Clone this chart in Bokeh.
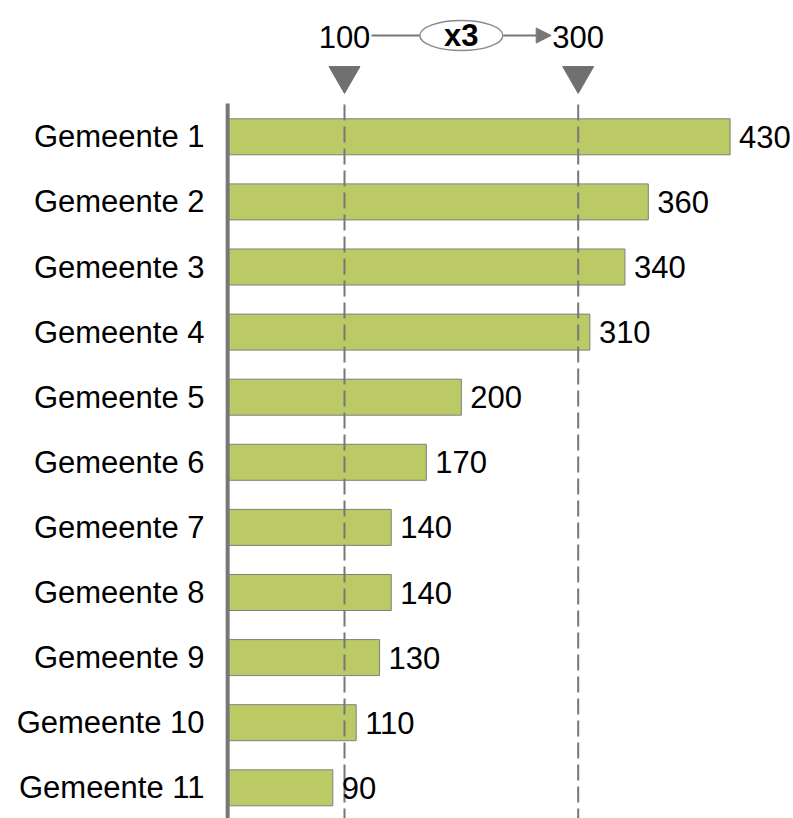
from bokeh.plotting import figure
from bokeh.models import Range1d, FixedTicker, Arrow, NormalHead, ColumnDataSource
from bokeh.core.properties import value
from bokeh.embed import file_html
from bokeh.resources import INLINE

# ---- data ----
categories = ["Gemeente 1", "Gemeente 2", "Gemeente 3", "Gemeente 4", "Gemeente 5",
              "Gemeente 6", "Gemeente 7", "Gemeente 8", "Gemeente 9", "Gemeente 10",
              "Gemeente 11"]
values = [430, 360, 340, 310, 200, 170, 140, 140, 130, 110, 90]
thresholds = [100, 300]
threshold_labels = ["100", "300"]
factor_label = "x3"

FONT = "Liberation Sans"
GREY = "#777777"
BAR = "#BBCA65"
FS = "31px"

W, H = 793, 818
LEFT = 218
ZERO_PX = 227.15        # pixel x of value 0
SCALE = 1.1685          # px per unit on x
YSTEP = 65.1            # px per category step
Y0 = 136.3              # px from top to first bar centre

x_start = -(ZERO_PX - LEFT) / SCALE
x_end = x_start + (W - LEFT) / SCALE
y_top = -Y0 / YSTEP
y_bot = y_top + H / YSTEP

def ypx(px):  # pixel from figure top -> data y
    return (px - Y0) / YSTEP

p = figure(width=W, height=H, output_backend="svg", toolbar_location=None,
           x_axis_location=None, y_axis_location="left",
           x_range=Range1d(x_start, x_end), y_range=Range1d(y_bot, y_top),
           min_border_left=LEFT, min_border_right=0, min_border_top=0, min_border_bottom=0)
p.outline_line_color = None
p.xgrid.visible = False
p.ygrid.visible = False
p.background_fill_color = "white"
p.border_fill_color = "white"

idx = list(range(len(categories)))
p.yaxis.ticker = FixedTicker(ticks=idx)
p.yaxis.major_label_overrides = {i: c for i, c in zip(idx, categories)}
p.yaxis.axis_line_color = None
p.yaxis.major_tick_line_color = None
p.yaxis.minor_tick_line_color = None
p.yaxis.major_label_text_font = FONT
p.yaxis.major_label_text_font_size = FS
p.yaxis.major_label_text_color = "black"
p.yaxis.major_label_standoff = 8

src = ColumnDataSource(dict(y=idx, v=values, lab=[str(v) for v in values]))

# bars
p.hbar(y="y", left=0, right="v", height=0.553, source=src,
       fill_color=BAR, line_color="#7f7f7f", line_width=1)

# vertical base line
p.segment(x0=[0], y0=[ypx(103)], x1=[0], y1=[y_bot], line_color=GREY, line_width=4)

# dashed threshold lines
p.segment(x0=thresholds, y0=[ypx(104)] * 2, x1=thresholds, y1=[y_bot] * 2,
          line_color=GREY, line_width=2, line_dash="16 6")

# triangles
p.scatter(x=thresholds, y=[ypx(75)] * 2, marker="inverted_triangle", size=31,
          fill_color="#707070", line_color="#707070")

# value labels
p.text(x="v", y="y", text="lab", source=src, x_offset=9,
       text_font=value(FONT), text_font_size=FS, text_color="black",
       text_align="left", text_baseline="middle")

# top annotation
yt = ypx(35)
p.text(x=thresholds, y=[ypx(36)] * 2, text=threshold_labels,
       text_font=value(FONT), text_font_size=FS, text_color="black",
       text_align="center", text_baseline="middle")

xm = (thresholds[0] + thresholds[1]) / 2
p.segment(x0=[thresholds[0] + 27 / SCALE], y0=[yt], x1=[xm - 41 / SCALE], y1=[yt],
          line_color=GREY, line_width=2)
p.ellipse(x=[xm], y=[yt], width=83, height=30, width_units="screen", height_units="screen",
          fill_color="white", line_color="#8a8a8a", line_width=1.5)
p.text(x=[xm], y=[yt], text=[factor_label], text_font=value(FONT), text_font_size=FS,
       text_font_style="bold", text_color="black", text_align="center", text_baseline="middle")
p.add_layout(Arrow(x_start=xm + 42 / SCALE, y_start=yt, x_end=thresholds[1] - 27 / SCALE, y_end=yt,
                   line_color=GREY, line_width=2,
                   end=NormalHead(size=15, fill_color=GREY, line_color=GREY)))

open("out.html", "w").write(file_html(p, INLINE))
